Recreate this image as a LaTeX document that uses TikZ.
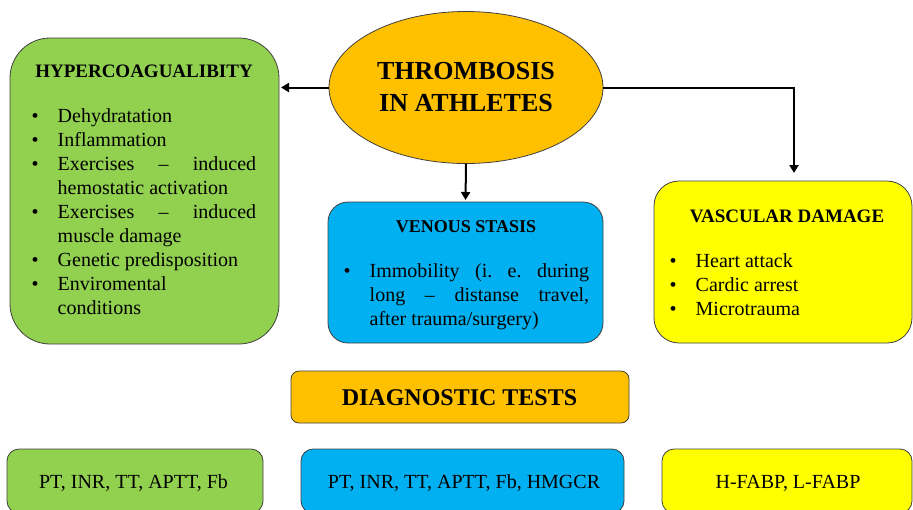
\documentclass[tikz,border=0pt]{standalone}
\usepackage{fontspec}
\setmainfont{Liberation Serif}
\usetikzlibrary{arrows.meta,shapes.geometric}
\definecolor{causeGreen}{HTML}{92D050}
\definecolor{causeBlue}{HTML}{00B0F0}
\definecolor{causeYellow}{HTML}{FFFF00}
\definecolor{mainOrange}{HTML}{FFC000}
\definecolor{boxLine}{HTML}{404040}
\newlength{\bulletindent}
\setlength{\bulletindent}{26pt}
\newcommand{\bulletstart}{\noindent\hangindent=\bulletindent\hangafter=1\makebox[\bulletindent][l]{\textbullet}}
\newcommand{\bulletitem}{\par\bulletstart}
\hyphenpenalty=10000
\frenchspacing

\begin{document}
\begin{tikzpicture}[x=1pt,y=-1pt,
    causebox/.style={draw=boxLine,line width=0.8pt,rounded corners=#1,inner sep=0pt,outer sep=0pt},
    titletext/.style={anchor=base,inner sep=0pt,font=\bfseries\fontsize{#1}{#1}\selectfont},
    listtext/.style={anchor=base west,inner sep=0pt,align=justify,font=\fontsize{20}{24.1}\selectfont},
    testtext/.style={anchor=base,inner sep=0pt,font=\fontsize{20}{24}\selectfont},
    link/.style={line width=2pt,-{Triangle[length=8pt,width=9pt]}}]
    \useasboundingbox (0,0) rectangle (913,509);

    \node[ellipse,draw=boxLine,line width=0.8pt,fill=mainOrange,minimum width=274pt,minimum height=152pt,inner sep=0pt,outer sep=0pt,align=center,font=\bfseries\fontsize{26}{32}\selectfont] (thrombosis) at (466,87.5) {THROMBOSIS\\IN ATHLETES};

    \node[causebox=40pt,fill=causeGreen,minimum width=269pt,minimum height=306pt] (hyper) at (144.5,191) {};
    \node[causebox=20pt,fill=causeBlue,minimum width=275pt,minimum height=141pt] (venous) at (465.5,272.5) {};
    \node[causebox=25pt,fill=causeYellow,minimum width=258pt,minimum height=162pt] (vascular) at (783,262) {};

    \node[titletext=19] (hyperTitle) at (144,77) {HYPERCOAGUALIBITY};
    \node[listtext,text width=224.5pt] (hyperList) at (31.5,122) {%
        \bulletstart Dehydratation
        \bulletitem Inflammation
        \bulletitem Exercises -- induced\linebreak hemostatic activation
        \bulletitem Exercises -- induced\linebreak muscle damage
        \bulletitem Genetic predisposition
        \bulletitem Enviromental\newline conditions\par};

    \node[titletext=18] (venousTitle) at (466,232) {VENOUS STASIS};
    \node[listtext,text width=245.5pt] (venousList) at (343.5,277) {%
        \bulletstart Immobility (i. e. during\linebreak long -- distanse travel,\linebreak after trauma/surgery)\par};

    \node[titletext=19] (vascularTitle) at (787,222) {VASCULAR DAMAGE};
    \node[listtext,text width=200pt] (vascularList) at (669.5,267) {%
        \bulletstart Heart attack
        \bulletitem Cardic arrest
        \bulletitem Microtrauma\par};

    \draw[link,shorten >=2pt] (thrombosis.west) -- (hyper.east |- thrombosis.west);
    \draw[link,shorten >=2pt] (thrombosis.south) -- (venous.north);
    \draw[link,shorten >=8pt] (thrombosis.east) -| ([xshift=11pt]vascular.north);

    \node[causebox=8pt,fill=mainOrange,minimum width=338pt,minimum height=52pt] (diagnostic) at (460,397) {};
    \node[titletext=24] (diagnosticTitle) at (459.5,405) {DIAGNOSTIC TESTS};

    \node[causebox=12pt,fill=causeGreen,minimum width=256pt,minimum height=64pt] (hyperTests) at (135,481) {};
    \node[causebox=12pt,fill=causeBlue,minimum width=323pt,minimum height=64pt] (venousTests) at (462.5,481) {};
    \node[causebox=12pt,fill=causeYellow,minimum width=250pt,minimum height=64pt] (vascularTests) at (787,481) {};
    \node[testtext] (hyperTestsText) at (133.5,488) {PT, INR, TT, APTT, Fb};
    \node[testtext] (venousTestsText) at (464,488) {PT, INR, TT, APTT, Fb, HMGCR};
    \node[testtext] (vascularTestsText) at (788,488) {H-FABP, L-FABP};
\end{tikzpicture}
\end{document}
